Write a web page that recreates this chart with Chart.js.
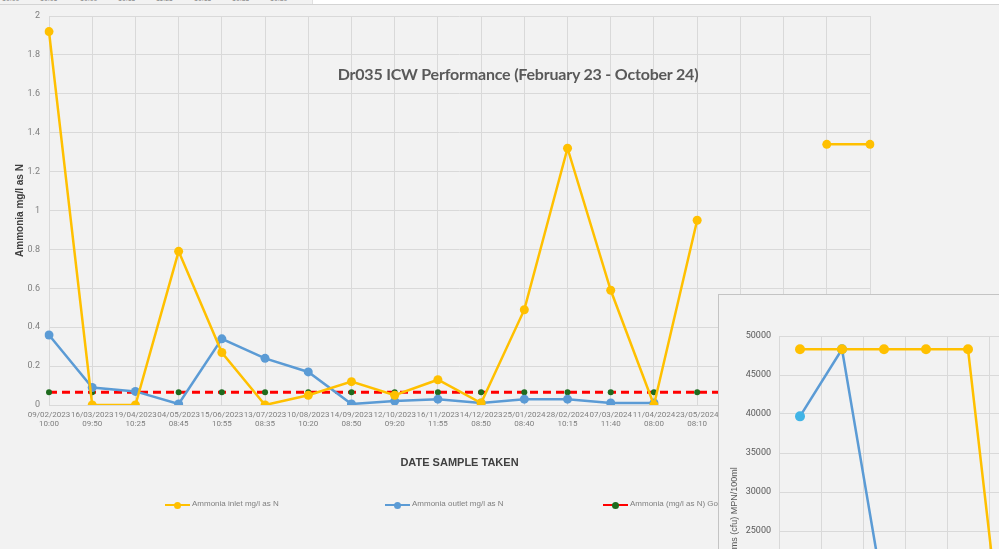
<!DOCTYPE html>
<html>
<head>
<meta charset="utf-8">
<script src="https://cdn.jsdelivr.net/npm/chart.js@4.4.1/dist/chart.umd.min.js"></script>
<style>
  html, body { margin: 0; padding: 0; background: #f2f2f2; }
  body { width: 999px; height: 549px; position: relative; overflow: hidden; font-family: Lato, "Liberation Sans", sans-serif; }
  #main-wrap { position: absolute; left: 0; top: 0; width: 999px; height: 549px; }
  #title { position: absolute; left: 0; width: 1036px; top: 64px; text-align: center; font: bold 16px Lato, sans-serif; color: #595959; letter-spacing: -0.2px; }
  .legend { position: absolute; top: 499px; font: 8px "Liberation Sans", sans-serif; color: #7f7f7f; white-space: nowrap; }
  .legend .ln { position: absolute; top: 5px; width: 25px; height: 2px; }
  .legend .dot { position: absolute; top: 3px; left: 9px; width: 7px; height: 7px; border-radius: 50%; }
  .legend .txt { position: absolute; left: 27px; top: 0; }
  #topstrip { position: absolute; left: 0; top: 0; width: 999px; height: 4px; border-bottom: 1px solid #d4d4d4; background: #fff; overflow: hidden; }
  #topstrip .left { position: absolute; left: 0; top: 0; width: 312px; height: 4px; background: #f2f2f2; border-right: 1px solid #e0e0e0; }
  #topstrip span { position: absolute; top: -5px; font: 7px "Liberation Sans", sans-serif; color: #808080; }
  #inset { position: absolute; left: 718px; top: 294px; width: 281px; height: 255px; overflow: hidden; background: #f2f2f2; border-left: 1px solid #c4c4c4; border-top: 1px solid #c4c4c4; }
  #inset-wrap { position: absolute; left: 0; top: 0; width: 600px; height: 480px; }
</style>
</head>
<body>
<div id="main-wrap"><canvas id="main"></canvas></div>
<div id="title">Dr035 ICW Performance (February 23 - October 24)</div>

<div class="legend" style="left:165px;">
  <div class="ln" style="background:#FFC000"></div><div class="dot" style="background:#FFC000"></div>
  <div class="txt">Ammonia inlet mg/l as N</div>
</div>
<div class="legend" style="left:385px;">
  <div class="ln" style="background:#5B9BD5"></div><div class="dot" style="background:#5B9BD5"></div>
  <div class="txt">Ammonia outlet mg/l as N</div>
</div>
<div class="legend" style="left:603px;">
  <div class="ln" style="background:#FF0000"></div><div class="dot" style="background:#1E6B1E"></div>
  <div class="txt">Ammonia (mg/l as N) Good Practice</div>
</div>

<div id="topstrip">
  <div class="left">
    <span style="left:2px">10:00</span><span style="left:40px">10:06</span><span style="left:80px">10:00</span>
    <span style="left:118px">10:15</span><span style="left:156px">11:25</span><span style="left:194px">10:15</span>
    <span style="left:232px">10:35</span><span style="left:270px">10:30</span>
  </div>
</div>

<div id="inset"><div id="inset-wrap"><canvas id="fc"></canvas></div></div>

<script>
/* ── Data ───────────────────────────────────────────────────── */
const sampleDates = [
    ['09/02/2023', '10:00'], ['16/03/2023', '09:50'], ['19/04/2023', '10:25'], ['04/05/2023', '08:45'],
    ['15/06/2023', '10:55'], ['13/07/2023', '08:35'], ['10/08/2023', '10:20'], ['14/09/2023', '08:50'],
    ['12/10/2023', '09:20'], ['16/11/2023', '11:55'], ['14/12/2023', '08:50'], ['25/01/2024', '08:40'],
    ['28/02/2024', '10:15'], ['07/03/2024', '11:40'], ['11/04/2024', '08:00'], ['23/05/2024', '08:10'],
    ['13/06/2024', '09:30'], ['18/07/2024', '10:05'], ['19/09/2024', '09:45'], ['17/10/2024', '10:10']
];
const ammoniaInlet  = [1.92, 0, 0, 0.79, 0.27, 0, 0.05, 0.12, 0.05, 0.13, 0.01, 0.49, 1.32, 0.59, 0, 0.95, null, null, 1.34, 1.34];
const ammoniaOutlet = [0.36, 0.09, 0.07, 0.005, 0.34, 0.24, 0.17, 0.005, 0.02, 0.03, 0.01, 0.03, 0.03, 0.01, 0.01, null, null, null, null, null];
const ammoniaGood   = Array(20).fill(0.065);
const yTicksMax = 2;

// second (overlapping) chart: coliforms
const fcLabels = ['1', '2', '3', '4', '5', '6', '7', '8', '9', '10', '11', '12'];
const fcInlet  = [48300, 48300, 48300, 48300, 48300, 1500, null, null, null, null, null, null];
const fcOutlet = [39700, 48300, 16600, null, null, null, null, null, null, null, null, null];

/* ── Shared styles ──────────────────────────────────────────── */
const GRID = '#d9d9d9';
const TICK = '#7f7f7f';
const TICK_FONT = { family: 'Roboto, sans-serif', size: 9 };
const XTICK_FONT = { family: 'Roboto, sans-serif', size: 8 };

/* ── Main chart ─────────────────────────────────────────────── */
new Chart(document.getElementById('main'), {
    type: 'line',
    data: {
        labels: sampleDates,
        datasets: [
            { label: 'Ammonia (mg/l as N) Good Practice', data: ammoniaGood, borderColor: '#FF0000', borderWidth: 3,
              borderDash: [8, 5], pointRadius: 3, pointBackgroundColor: '#1E6B1E', pointBorderWidth: 0, order: 3 },
            { label: 'Ammonia outlet mg/l as N', data: ammoniaOutlet, borderColor: '#5B9BD5', backgroundColor: '#5B9BD5',
              borderWidth: 2.5, pointRadius: 4.5, pointBorderWidth: 0, order: 2 },
            { label: 'Ammonia inlet mg/l as N', data: ammoniaInlet, borderColor: '#FFC000', backgroundColor: '#FFC000',
              borderWidth: 2.5, pointRadius: 4.5, pointBorderWidth: 0, order: 1 },
        ],
    },
    options: {
        responsive: true, maintainAspectRatio: false, animation: false,
        layout: { padding: { top: 16, right: 129, bottom: 79, left: 0 } },
        plugins: { legend: { display: false }, tooltip: { enabled: false } },
        scales: {
            x: {
                offset: false,
                grid: { color: GRID, drawTicks: false },
                border: { color: GRID },
                ticks: { color: TICK, font: XTICK_FONT, maxRotation: 0, autoSkip: false, padding: 5 },
                title: { display: true, text: 'DATE SAMPLE TAKEN', color: '#404040', font: { size: 11, weight: 'bold' }, padding: { top: 0, bottom: 0 } },
                afterFit: s => { s.height = 65; },
            },
            y: {
                min: 0, max: yTicksMax,
                grid: { color: GRID, drawTicks: false },
                border: { display: false },
                ticks: { stepSize: 0.2, color: TICK, font: TICK_FONT, padding: 9, callback: v => String(+v.toFixed(1)) },
                title: { display: true, text: 'Ammonia mg/l as N', color: '#404040', font: { size: 10, weight: 'bold' }, padding: { top: 14, bottom: 0 } },
                afterFit: s => { s.width = 49; },
            },
        },
    },
});

/* ── Overlapping coliform chart ─────────────────────────────── */
new Chart(document.getElementById('fc'), {
    type: 'line',
    data: {
        labels: fcLabels,
        datasets: [
            { label: 'Outlet', data: fcOutlet, borderColor: '#5B9BD5', backgroundColor: ['#41B4E6', '#41B4E6', '#5B9BD5'],
              borderWidth: 2.5, pointRadius: 5, pointBorderWidth: 0, order: 2 },
            { label: 'Inlet', data: fcInlet, borderColor: '#FFC000', backgroundColor: '#FFC000',
              borderWidth: 2.5, pointRadius: 5, pointBorderWidth: 0, order: 1 },
        ],
    },
    options: {
        responsive: true, maintainAspectRatio: false, animation: false,
        layout: { padding: { top: 41, right: 36, bottom: 0, left: 0 } },
        plugins: { legend: { display: false }, tooltip: { enabled: false } },
        scales: {
            x: {
                offset: true,
                grid: { color: GRID, offset: true, drawTicks: false },
                border: { color: GRID },
                ticks: { display: false },
                afterFit: s => { s.height = 49; },
            },
            y: {
                min: 0, max: 50000,
                grid: { color: GRID, drawTicks: false },
                border: { display: false },
                ticks: { stepSize: 5000, color: '#595959', font: TICK_FONT, padding: 8, callback: v => String(v) },
                title: { display: true, text: 'Total coliforms (cfu) MPN/100ml', color: '#595959', font: { size: 9 }, padding: { top: 10, bottom: 0 } },
                afterFit: s => { s.width = 60; },
            },
        },
    },
});
</script>
</body>
</html>
